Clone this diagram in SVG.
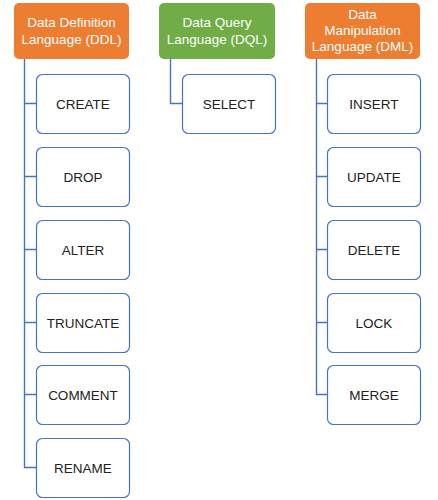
<svg xmlns="http://www.w3.org/2000/svg" width="438" height="500" viewBox="0 0 438 500">
<style>
.hdr rect{stroke:none}
.ddl rect,.dml rect{fill:#ED7D31}
.dql rect{fill:#70AD47}
.hdr text{fill:#ffffff;font-family:"Liberation Sans",Arial,sans-serif;font-size:13.5px;text-anchor:middle}
.item rect{fill:#ffffff;stroke:#4472C4;stroke-width:1.2}
.item text{fill:#222222;font-family:"Liberation Sans",Arial,sans-serif;font-size:13.5px;text-anchor:middle}
.conn path{fill:none;stroke:#4472C4;stroke-width:1.4}
</style>
<rect width="438" height="500" fill="#ffffff"/>
<g id="connectors" class="conn">
<path d="M24.5 59V467.5H36"/>
<path d="M24.5 103.5H36M24.5 176.5H36M24.5 249.5H36M24.5 322.5H36M24.5 394.5H36"/>
<path d="M170.5 59V103.5H182"/>
<path d="M316.5 59V394.5H327"/>
<path d="M316.5 103.5H327M316.5 176.5H327M316.5 249.5H327M316.5 322.5H327"/>
</g>
<g id="ddl" class="hdr ddl"><rect x="14" y="3" width="115" height="56" rx="5"/><text x="71.5" y="27">Data Definition</text><text x="71.5" y="44">Language (DDL)</text></g>
<g id="dql" class="hdr dql"><rect x="159" y="3" width="116" height="56" rx="5"/><text x="217" y="27">Data Query</text><text x="217" y="44">Language (DQL)</text></g>
<g id="dml" class="hdr dml"><rect x="305" y="3" width="115" height="56" rx="5"/><text x="362.5" y="19">Data</text><text x="362.5" y="35">Manipulation</text><text x="362.5" y="51">Language (DML)</text></g>
<g id="create" class="item"><rect x="36.5" y="74.5" width="93" height="59" rx="6"/><text x="83" y="108.5">CREATE</text></g>
<g id="drop" class="item"><rect x="36.5" y="147.5" width="93" height="59" rx="6"/><text x="83" y="181.5">DROP</text></g>
<g id="alter" class="item"><rect x="36.5" y="220.5" width="93" height="59" rx="6"/><text x="83" y="254.5">ALTER</text></g>
<g id="truncate" class="item"><rect x="36.5" y="293.5" width="93" height="59" rx="6"/><text x="83" y="327.5">TRUNCATE</text></g>
<g id="comment" class="item"><rect x="36.5" y="365.5" width="93" height="59" rx="6"/><text x="83" y="399.5">COMMENT</text></g>
<g id="rename" class="item"><rect x="36.5" y="438.5" width="93" height="59" rx="6"/><text x="83" y="472.5">RENAME</text></g>
<g id="select" class="item"><rect x="182.5" y="74.5" width="93" height="59" rx="6"/><text x="229" y="108.5">SELECT</text></g>
<g id="insert" class="item"><rect x="327.5" y="74.5" width="93" height="59" rx="6"/><text x="374" y="108.5">INSERT</text></g>
<g id="update" class="item"><rect x="327.5" y="147.5" width="93" height="59" rx="6"/><text x="374" y="181.5">UPDATE</text></g>
<g id="delete" class="item"><rect x="327.5" y="220.5" width="93" height="59" rx="6"/><text x="374" y="254.5">DELETE</text></g>
<g id="lock" class="item"><rect x="327.5" y="293.5" width="93" height="59" rx="6"/><text x="374" y="327.5">LOCK</text></g>
<g id="merge" class="item"><rect x="327.5" y="365.5" width="93" height="59" rx="6"/><text x="374" y="399.5">MERGE</text></g>
</svg>
